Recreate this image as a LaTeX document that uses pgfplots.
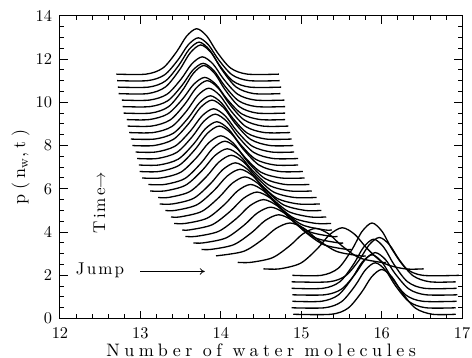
\documentclass[border=0pt]{standalone}
\usepackage{fontspec}
\newfontfamily\spaced[LetterSpace=25]{lmroman10-regular.otf}
\newfontfamily\spacedb[LetterSpace=12]{lmroman10-regular.otf}
\usepackage{pgfplots}
\pgfplotsset{compat=1.18}
\usetikzlibrary{arrows.meta,calc}
\pgfplotsset{cv/.style={black,line width=0.8pt,smooth,mark=none}}
\begin{document}
\fontsize{10.4}{12}\selectfont
\begin{tikzpicture}
\begin{axis}[
  scale only axis, width=245.4pt, height=184.8pt,
  xmin=12, xmax=17, ymin=0, ymax=14,
  enlargelimits=false,
  xtick={12,13,14,15,16,17}, ytick={0,2,4,6,8,10,12,14},
  minor x tick num=4, minor y tick num=3,
  tick pos=both, tick align=inside,
  major tick length=4.8pt, minor tick length=2.6pt,
  every tick/.style={black,line width=0.6pt},
  axis line style={line width=0.6pt},
  xticklabel style={yshift=-2.3pt},
  yticklabel style={xshift=-1.2pt},
  xlabel={\fontsize{11}{13}\spaced Number of water molecules},
  ylabel={\fontsize{11}{13}\selectfont{\spaced p(n}$_{\mathrm{w}}${\spaced ,t)}},
  xlabel style={at={(axis description cs:0.5,-0.104)},anchor=center},
  ylabel style={at={(axis description cs:-0.098,0.5)},anchor=center},
  clip=false,
]
% group A (later times, top)
\addplot[cv] coordinates {(12.70,11.3)(13.07,11.3)(13.28,11.584)(13.448,12.323)(13.574,13.054)(13.70,13.40)(13.826,13.054)(13.952,12.323)(14.12,11.584)(14.33,11.3)(14.72,11.3)};
\addplot[cv] coordinates {(12.71,11.0)(13.09,11.0)(13.30,11.267)(13.468,11.964)(13.594,12.653)(13.72,12.98)(13.846,12.653)(13.972,11.964)(14.14,11.267)(14.35,11.0)(14.73,11.0)};
\addplot[cv] coordinates {(12.72,10.7)(13.10,10.7)(13.31,10.981)(13.478,11.713)(13.604,12.437)(13.73,12.78)(13.856,12.437)(13.982,11.713)(14.15,10.981)(14.36,10.7)(14.75,10.7)};
\addplot[cv] coordinates {(12.73,10.4)(13.09,10.4)(13.31,10.704)(13.486,11.496)(13.618,12.279)(13.75,12.65)(13.882,12.279)(14.014,11.496)(14.19,10.704)(14.41,10.4)(14.74,10.4)};
\addplot[cv] coordinates {(12.77,10.1)(13.11,10.1)(13.33,10.37)(13.506,11.074)(13.638,11.77)(13.77,12.10)(13.902,11.77)(14.034,11.074)(14.21,10.37)(14.43,10.1)(14.79,10.1)};
\addplot[cv] coordinates {(12.78,9.8)(13.12,9.8)(13.34,10.07)(13.516,10.774)(13.648,11.47)(13.78,11.80)(13.912,11.47)(14.044,10.774)(14.22,10.07)(14.44,9.8)(14.80,9.8)};
\addplot[cv] coordinates {(12.79,9.5)(13.13,9.5)(13.35,9.797)(13.526,10.571)(13.658,11.337)(13.79,11.70)(13.922,11.337)(14.054,10.571)(14.23,9.797)(14.45,9.5)(14.80,9.5)};
\addplot[cv] coordinates {(12.83,9.2)(13.11,9.2)(13.34,9.463)(13.524,10.15)(13.662,10.828)(13.80,11.15)(13.938,10.828)(14.076,10.15)(14.26,9.463)(14.49,9.2)(14.80,9.2)};
\addplot[cv] coordinates {(12.84,8.9)(13.14,8.9)(13.37,9.184)(13.554,9.923)(13.692,10.654)(13.83,11.0)(13.968,10.654)(14.106,9.923)(14.29,9.184)(14.52,8.9)(14.84,8.9)};
\addplot[cv] coordinates {(12.86,8.6)(13.16,8.6)(13.39,8.877)(13.574,9.598)(13.712,10.312)(13.85,10.65)(13.988,10.312)(14.126,9.598)(14.31,8.877)(14.54,8.6)(14.86,8.6)};
\addplot[cv] coordinates {(12.88,8.3)(13.18,8.3)(13.41,8.57)(13.594,9.274)(13.732,9.97)(13.87,10.3)(14.008,9.97)(14.146,9.274)(14.33,8.57)(14.56,8.3)(14.88,8.3)};
\addplot[cv] coordinates {(12.90,8.0)(13.17,8.0)(13.41,8.284)(13.602,9.023)(13.746,9.754)(13.89,10.1)(14.034,9.754)(14.178,9.023)(14.37,8.284)(14.61,8.0)(14.90,8.0)};
\addplot[cv] coordinates {(12.94,7.7)(13.19,7.7)(13.43,7.97)(13.622,8.674)(13.766,9.37)(13.91,9.7)(14.054,9.37)(14.198,8.674)(14.39,7.97)(14.63,7.7)(14.91,7.7)};
\addplot[cv] coordinates {(12.96,7.4)(13.21,7.4)(13.45,7.677)(13.642,8.398)(13.786,9.112)(13.93,9.45)(14.074,9.112)(14.218,8.398)(14.41,7.677)(14.65,7.4)(14.96,7.4)};
\addplot[cv] coordinates {(12.98,7.1)(13.23,7.1)(13.47,7.37)(13.662,8.074)(13.806,8.77)(13.95,9.1)(14.094,8.77)(14.238,8.074)(14.43,7.37)(14.67,7.1)(14.96,7.1)};
\addplot[cv] coordinates {(12.99,6.8)(13.23,6.8)(13.48,7.084)(13.68,7.823)(13.83,8.554)(13.98,8.9)(14.13,8.554)(14.28,7.823)(14.48,7.084)(14.73,6.8)(15.02,6.8)};
\addplot[cv] coordinates {(13.02,6.5)(13.25,6.5)(13.50,6.763)(13.70,7.45)(13.85,8.128)(14.00,8.45)(14.15,8.128)(14.30,7.45)(14.50,6.763)(14.75,6.5)(15.04,6.5)};
\addplot[cv] coordinates {(13.10,6.2)(13.30,6.2)(13.55,6.47)(13.75,7.174)(13.90,7.87)(14.05,8.2)(14.20,7.87)(14.35,7.174)(14.55,6.47)(14.80,6.2)(15.10,6.2)};
\addplot[cv] coordinates {(13.12,5.9)(13.30,5.9)(13.56,6.163)(13.768,6.85)(13.924,7.528)(14.08,7.85)(14.236,7.528)(14.392,6.85)(14.60,6.163)(14.86,5.9)(15.13,5.9)};
\addplot[cv] coordinates {(13.22,5.6)(13.35,5.6)(13.61,5.863)(13.818,6.55)(13.974,7.228)(14.13,7.55)(14.286,7.228)(14.442,6.55)(14.65,5.863)(14.91,5.6)(15.19,5.6)};
\addplot[cv] coordinates {(13.24,5.3)(13.40,5.3)(13.66,5.557)(13.868,6.225)(14.024,6.887)(14.18,7.2)(14.336,6.887)(14.492,6.225)(14.70,5.557)(14.96,5.3)(15.23,5.3)};
\addplot[cv] coordinates {(13.31,5.0)(13.43,5.0)(13.70,5.257)(13.916,5.925)(14.078,6.587)(14.24,6.9)(14.402,6.587)(14.564,5.925)(14.78,5.257)(15.05,5.0)(15.25,5.0)};
\addplot[cv] coordinates {(13.38,4.7)(13.49,4.7)(13.76,4.95)(13.976,5.601)(14.138,6.245)(14.30,6.55)(14.462,6.245)(14.624,5.601)(14.84,4.95)(15.11,4.7)(15.31,4.7)};
\addplot[cv] coordinates {(13.42,4.4)(13.56,4.4)(13.83,4.643)(14.046,5.277)(14.208,5.903)(14.37,6.2)(14.532,5.903)(14.694,5.277)(14.91,4.643)(15.18,4.4)(15.37,4.4)};
\addplot[cv] coordinates {(13.52,4.1)(13.61,4.1)(13.89,4.336)(14.114,4.952)(14.282,5.561)(14.45,5.85)(14.618,5.561)(14.786,4.952)(15.01,4.336)(15.29,4.1)(15.38,4.1)};
\addplot[cv] coordinates {(13.56,3.8)(13.69,3.8)(13.97,4.03)(14.194,4.628)(14.362,5.22)(14.53,5.5)(14.698,5.22)(14.866,4.628)(15.09,4.03)(15.37,3.8)(15.45,3.8)};
\addplot[cv] coordinates {(13.66,3.5)(13.78,3.5)(14.06,3.723)(14.284,4.304)(14.452,4.878)(14.62,5.15)(14.788,4.878)(14.956,4.304)(15.18,3.723)(15.46,3.5)(15.52,3.5)};
\addplot[cv] coordinates {(13.76,3.2)(13.88,3.2)(14.16,3.416)(14.384,3.979)(14.552,4.536)(14.72,4.8)(14.888,4.536)(15.056,3.979)(15.28,3.416)(15.56,3.2)(15.62,3.2)};
\addplot[cv] coordinates {(13.94,2.9)(14.28,3.105)(14.512,3.64)(14.686,4.169)(14.86,4.42)(15.034,4.169)(15.208,3.64)(15.44,3.105)(15.73,2.9)(15.8,2.9)};
% transition
\addplot[cv] coordinates {(14.21,2.6)(14.37,2.6)(14.64,2.812)(14.856,3.365)(15.018,3.911)(15.18,4.17)(15.342,3.911)(15.504,3.365)(15.72,2.812)(15.99,2.6)(16.05,2.6)};
\addplot[cv] coordinates {(14.53,2.3)(14.73,2.3)(14.99,2.557)(15.198,3.225)(15.354,3.887)(15.51,4.2)(15.666,3.887)(15.822,3.225)(16.03,2.557)(16.29,2.3)(16.52,2.3)};
% group B (early times, bottom)
\addplot[cv] coordinates {(14.89,2.0)(15.25,2.0)(15.46,2.327)(15.628,3.179)(15.754,4.021)(15.88,4.42)(16.006,4.021)(16.132,3.179)(16.30,2.327)(16.51,2.0)(16.96,2.0)};
\addplot[cv] coordinates {(14.88,1.7)(15.34,1.7)(15.55,1.977)(15.718,2.698)(15.844,3.412)(15.97,3.75)(16.096,3.412)(16.222,2.698)(16.39,1.977)(16.6,1.7)(16.92,1.7)};
\addplot[cv] coordinates {(14.88,1.4)(15.27,1.4)(15.48,1.706)(15.648,2.505)(15.774,3.295)(15.90,3.67)(16.026,3.295)(16.152,2.505)(16.32,1.706)(16.53,1.4)(16.93,1.4)};
\addplot[cv] coordinates {(14.89,1.1)(15.29,1.1)(15.50,1.363)(15.668,2.05)(15.794,2.728)(15.92,3.05)(16.046,2.728)(16.172,2.05)(16.34,1.363)(16.55,1.1)(16.94,1.1)};
\addplot[cv] coordinates {(14.89,0.8)(15.25,0.8)(15.46,1.09)(15.628,1.847)(15.754,2.595)(15.88,2.95)(16.006,2.595)(16.132,1.847)(16.30,1.09)(16.51,0.8)(16.93,0.8)};
\addplot[cv] coordinates {(14.88,0.5)(15.29,0.5)(15.50,0.781)(15.668,1.513)(15.794,2.237)(15.92,2.58)(16.046,2.237)(16.172,1.513)(16.34,0.781)(16.55,0.5)(16.92,0.5)};
\addplot[cv] coordinates {(14.9,0.2)(15.37,0.2)(15.58,0.479)(15.748,1.208)(15.874,1.928)(16.0,2.27)(16.126,1.928)(16.252,1.208)(16.42,0.479)(16.63,0.2)(16.92,0.2)};
% annotations
\node[rotate=90,anchor=center,inner sep=0pt] at (axis cs:12.49,5.36) {{\spacedb Time}$\rightarrow$};
\node[anchor=base west,inner sep=0pt] at (axis cs:12.195,2.05) {\spacedb Jump};
\draw[line width=0.5pt,-{To[length=3pt,width=4pt]}] (axis cs:13.0,2.18) -- (axis cs:13.8,2.18);
\end{axis}
\pgfresetboundingbox
\path[use as bounding box] ($(current axis.south west)+(-36.6pt,-24pt)$) rectangle ($(current axis.north east)+(6pt,9.6pt)$);
\end{tikzpicture}
\end{document}
